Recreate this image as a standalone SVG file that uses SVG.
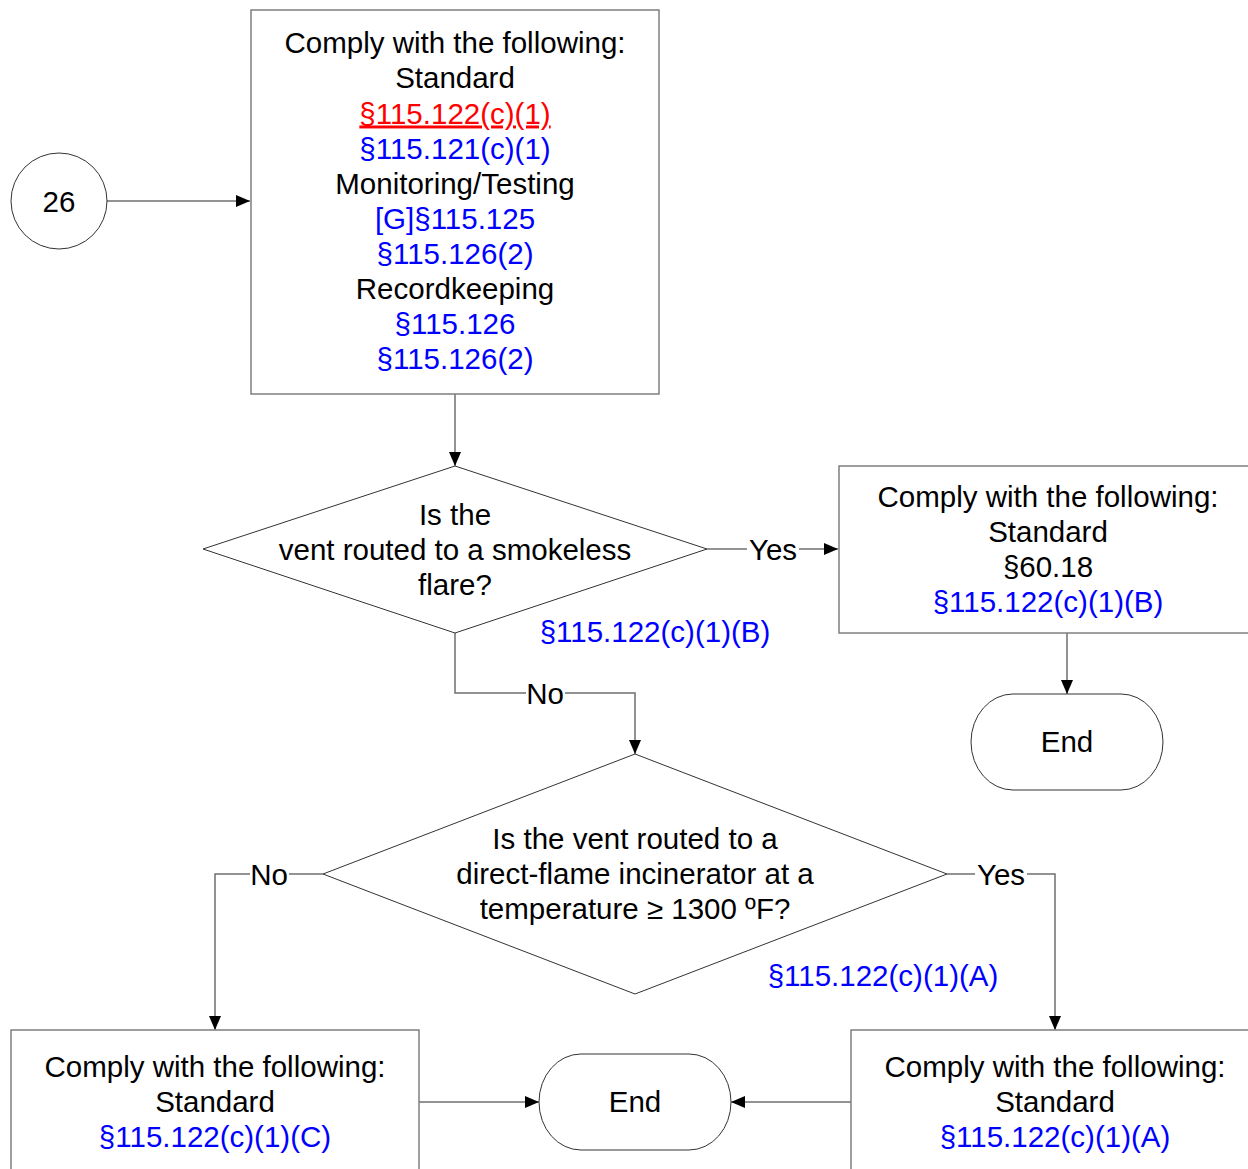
<svg xmlns="http://www.w3.org/2000/svg" width="1248" height="1169" viewBox="0 0 1248 1169">
<style>
text{font-family:"Liberation Sans",Arial,sans-serif;font-size:29.5px;fill:#000;text-anchor:middle}
.b{fill:#0000ff}
.r{fill:#ff0000;text-decoration:underline}
.box{fill:#fff;stroke:#7f7f7f;stroke-width:1.5}
.shp{fill:#fff;stroke:#333;stroke-width:1}
.con{fill:none;stroke:#6f6f6f;stroke-width:1.5}
.lbg{fill:#fff}
</style>
<defs>
<marker id="ah" markerWidth="14" markerHeight="12" refX="14" refY="6" orient="auto" markerUnits="userSpaceOnUse">
<path d="M0,0 L14,6 L0,12 Z" fill="#000"/>
</marker>
</defs>
<rect width="1248" height="1169" fill="#fff"/>
<g id="connectors">
<line class="con" x1="107" y1="201" x2="250" y2="201" marker-end="url(#ah)"/>
<line class="con" x1="455" y1="394" x2="455" y2="466" marker-end="url(#ah)"/>
<line class="con" x1="707" y1="549" x2="838" y2="549" marker-end="url(#ah)"/>
<line class="con" x1="1067" y1="633" x2="1067" y2="694" marker-end="url(#ah)"/>
<polyline class="con" points="455,633 455,693 635,693 635,754" marker-end="url(#ah)"/>
<polyline class="con" points="323,874 215,874 215,1030" marker-end="url(#ah)"/>
<polyline class="con" points="947,874 1055,874 1055,1030" marker-end="url(#ah)"/>
<line class="con" x1="419" y1="1102" x2="539" y2="1102" marker-end="url(#ah)"/>
<line class="con" x1="851" y1="1102" x2="731" y2="1102" marker-end="url(#ah)"/>
<rect class="lbg" x="747" y="535" width="52" height="28"/>
<text x="773" y="559.5">Yes</text>
<rect class="lbg" x="526" y="679" width="39" height="28"/>
<text x="545" y="703.5">No</text>
<rect class="lbg" x="250" y="860" width="39" height="28"/>
<text x="269" y="884.5">No</text>
<rect class="lbg" x="975" y="860" width="52" height="28"/>
<text x="1001" y="884.5">Yes</text>
</g>
<g id="n26">
<circle class="shp" cx="59" cy="201" r="48"/>
<text x="59" y="211.5">26</text>
</g>
<g id="box-top">
<rect class="box" x="251" y="10" width="408" height="384"/>
<text x="455" y="53">Comply with the following:</text>
<text x="455" y="88">Standard</text>
<text x="455" y="123.5" class="r">§115.122(c)(1)</text>
<text x="455" y="158.5" class="b">§115.121(c)(1)</text>
<text x="455" y="193.5">Monitoring/Testing</text>
<text x="455" y="229" class="b">[G]§115.125</text>
<text x="455" y="264" class="b">§115.126(2)</text>
<text x="455" y="299">Recordkeeping</text>
<text x="455" y="334" class="b">§115.126</text>
<text x="455" y="369" class="b">§115.126(2)</text>
</g>
<g id="dec-smokeless">
<polygon class="shp" points="455,466 707,549 455,633 203,549"/>
<text x="455" y="524.5">Is the</text>
<text x="455" y="559.5">vent routed to a smokeless</text>
<text x="455" y="594.5">flare?</text>
<text x="655" y="641.5" class="b">§115.122(c)(1)(B)</text>
</g>
<g id="box-flare">
<rect class="box" x="839" y="466" width="420" height="167"/>
<text x="1048" y="506.5">Comply with the following:</text>
<text x="1048" y="541.5">Standard</text>
<text x="1048" y="577">§60.18</text>
<text x="1048" y="612" class="b">§115.122(c)(1)(B)</text>
</g>
<g id="end1">
<rect class="shp" x="971" y="694" width="192" height="96" rx="42" ry="48"/>
<text x="1067" y="752">End</text>
</g>
<g id="dec-incinerator">
<polygon class="shp" points="635,754 947,874 635,994 323,874"/>
<text x="635" y="848.5">Is the vent routed to a</text>
<text x="635" y="883.5">direct-flame incinerator at a</text>
<text x="635" y="918.5">temperature ≥ 1300 ºF?</text>
<text x="883" y="986" class="b">§115.122(c)(1)(A)</text>
</g>
<g id="box-c">
<rect class="box" x="11" y="1030" width="408" height="150"/>
<text x="215" y="1076.5">Comply with the following:</text>
<text x="215" y="1111.5">Standard</text>
<text x="215" y="1147" class="b">§115.122(c)(1)(C)</text>
</g>
<g id="end2">
<rect class="shp" x="539" y="1054" width="192" height="96" rx="42" ry="48"/>
<text x="635" y="1112">End</text>
</g>
<g id="box-a">
<rect class="box" x="851" y="1030" width="420" height="150"/>
<text x="1055" y="1076.5">Comply with the following:</text>
<text x="1055" y="1111.5">Standard</text>
<text x="1055" y="1147" class="b">§115.122(c)(1)(A)</text>
</g>
</svg>
